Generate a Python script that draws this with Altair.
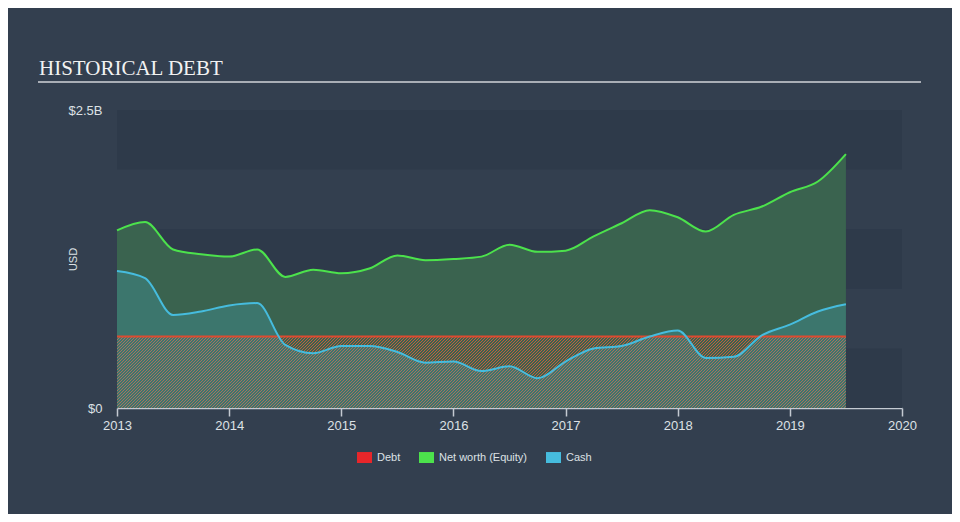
import altair as alt
import pandas as pd

# ---- data (values in $B) ----
years = [2013.0, 2013.25, 2013.5, 2013.75, 2014.0, 2014.25, 2014.5, 2014.75,
         2015.0, 2015.25, 2015.5, 2015.75, 2016.0, 2016.25, 2016.5, 2016.75,
         2017.0, 2017.25, 2017.5, 2017.75, 2018.0, 2018.25, 2018.5, 2018.75,
         2019.0, 2019.25, 2019.5]
equity = [1.49, 1.56, 1.33, 1.29, 1.27, 1.33, 1.10, 1.16,
          1.13, 1.17, 1.28, 1.24, 1.25, 1.27, 1.37, 1.31,
          1.32, 1.44, 1.55, 1.66, 1.60, 1.48, 1.62, 1.69,
          1.81, 1.90, 2.13]
cash = [1.15, 1.09, 0.78, 0.81, 0.86, 0.88, 0.53, 0.46,
        0.52, 0.52, 0.47, 0.38, 0.39, 0.31, 0.35, 0.25,
        0.39, 0.50, 0.52, 0.60, 0.65, 0.42, 0.43, 0.61,
        0.70, 0.81, 0.87]
debt = [0.60] * len(years)

series_names = ["Debt", "Net worth (Equity)", "Cash"]
series_colors = ["#e8262a", "#4ce24c", "#46bcde"]
band_lo = [0.0, 1.0, 2.0]
band_hi = [0.5, 1.5, 2.5]
x_ticks = [2013, 2014, 2015, 2016, 2017, 2018, 2019, 2020]
y_ticks = [0, 2.5]

df = pd.DataFrame({"year": years, "equity": equity, "cash": cash, "debt": debt})
bands = pd.DataFrame({"lo": band_lo, "hi": band_hi})
legend_df = pd.DataFrame({"series": series_names})
title_df = pd.DataFrame({"t": ["HISTORICAL DEBT"]})

W, H = 785, 298

# ---- hatch style for the debt area (diagonal stripes as a gradient) ----
bw = (years[-1] - years[0]) / 7 * W      # debt area bbox width in px
bh = debt[0] / 2.5 * H                  # debt area bbox height in px
ga, gb = 1.0, bh / bw                    # 45-degree stripes in pixel space
scale_k = (ga + gb) / (ga * ga + gb * gb)
ga, gb = ga * scale_k, gb * scale_k      # t spans exactly [0,1] across bbox
dt_px = (ga / bw) / (ga * ga + gb * gb)  # t change per horizontal px
period = 3.0 * dt_px
frac = 0.45
stripe = "rgba(226,92,58,0.82)"
clear = "rgba(0,0,0,0)"
stops = []
k = 0
while k * period < 1.0:
    s = k * period
    e = min(s + frac * period, 1.0)
    n = min(s + period, 1.0)
    stops += [alt.GradientStop(offset=s, color=stripe),
              alt.GradientStop(offset=e, color=stripe),
              alt.GradientStop(offset=e, color=clear),
              alt.GradientStop(offset=n, color=clear)]
    k += 1
hatch = alt.LinearGradient(gradient="linear", stops=stops,
                           x1=0, y1=0, x2=ga, y2=gb)

xscale = alt.Scale(domain=[2013, 2020], nice=False, zero=False)
yscale = alt.Scale(domain=[0, 2.5], nice=False)

xaxis = alt.Axis(values=x_ticks, format="d", title=None, grid=False,
                 domainColor="#c4cad2", domainWidth=1.5, tickColor="#c4cad2",
                 tickWidth=1.5, tickSize=8, labelColor="#dde1e5", labelFontSize=13,
                 labelPadding=3, labelFont="Liberation Sans", labelFlush=False)
yaxis = alt.Axis(values=y_ticks, labelExpr="datum.value == 0 ? '$0' : '$' + datum.value + 'B'",
                 title="USD", grid=False, domain=False, ticks=False,
                 labelColor="#dde1e5", labelFontSize=13, labelPadding=15,
                 labelFont="Liberation Sans",
                 titleColor="#dde1e5", titleFontSize=11, titleFontWeight="normal",
                 titleFont="Liberation Sans", titleAngle=270, titleX=-44, titleY=149,
                 titleAlign="center", titleBaseline="middle")

base = alt.Chart(df)

band_layer = alt.Chart(bands).mark_rect(color="#2e3a4a").encode(
    y=alt.Y("lo:Q", scale=yscale, axis=yaxis),
    y2="hi:Q",
    x=alt.value(0), x2=alt.value(W),
)

x_enc = alt.X("year:Q", scale=xscale, axis=xaxis)

equity_area = base.mark_area(color="#3a634f", interpolate="monotone").encode(
    x=x_enc, y=alt.Y("equity:Q", scale=yscale), y2=alt.datum(0))
debt_area = base.mark_area(color=hatch, interpolate="monotone").encode(
    x=x_enc, y=alt.Y("debt:Q", scale=yscale), y2=alt.datum(0))
cash_area = base.mark_area(color="#46bcde", opacity=0.21, interpolate="monotone").encode(
    x=x_enc, y=alt.Y("cash:Q", scale=yscale), y2=alt.datum(0))

debt_line = base.mark_line(color="#dd4b30", strokeWidth=1.8, interpolate="monotone").encode(
    x=x_enc, y=alt.Y("debt:Q", scale=yscale))
equity_line = base.mark_line(color="#4ce24c", strokeWidth=2, interpolate="monotone").encode(
    x=x_enc, y=alt.Y("equity:Q", scale=yscale))
cash_line = base.mark_line(color="#46bcde", strokeWidth=2, interpolate="monotone").encode(
    x=x_enc, y=alt.Y("cash:Q", scale=yscale))

legend_layer = alt.Chart(legend_df).mark_point(filled=True).encode(
    color=alt.Color("series:N",
                    scale=alt.Scale(domain=series_names, range=series_colors),
                    legend=alt.Legend(title=None, orient="none", direction="horizontal",
                                      legendX=240, legendY=340,
                                      symbolType="M-1,-0.73L1,-0.73L1,0.73L-1,0.73Z",
                                      symbolSize=225, symbolStrokeWidth=0,
                                      symbolOpacity=1,
                                      labelColor="#dde1e5", labelFontSize=11,
                                      labelFont="Liberation Sans",
                                      labelOffset=5, columnPadding=18)),
).transform_filter("false")

title_text = alt.Chart(title_df).mark_text(
    align="left", baseline="alphabetic", font="Liberation Serif", fontSize=21,
    color="#f2f2f2").encode(text="t:N", x=alt.value(-78), y=alt.value(-35))
title_rule = alt.Chart(title_df).mark_rule(color="#a9aeb6", strokeWidth=2).encode(
    x=alt.value(-79), x2=alt.value(804), y=alt.value(-28))

chart = alt.layer(
    band_layer, equity_area, debt_area, cash_area,
    debt_line, equity_line, cash_line, legend_layer, title_text, title_rule
).properties(
    width=W, height=H,
    autosize=alt.AutoSizeParams(type="none"),
    padding={"left": 109, "top": 102, "right": 50, "bottom": 106},
    background="#333f4f",
).configure_view(strokeWidth=0)

chart.save("out.html", embed_options={"renderer": "svg", "actions": False})
